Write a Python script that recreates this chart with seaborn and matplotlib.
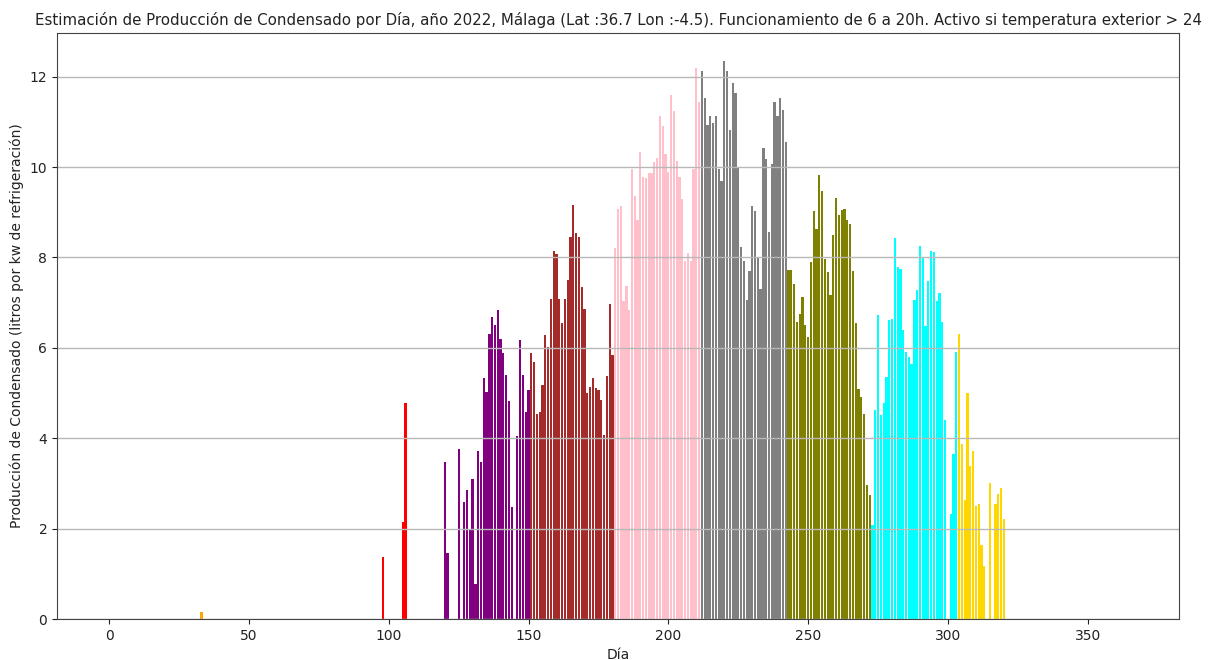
import numpy as np
import pandas as pd
import matplotlib
matplotlib.use("Agg")
import matplotlib.pyplot as plt
import seaborn as sns

# ---- data (litros por kW de refrigeración, por día del año 2022; índice 0 = 1 de enero)
feb_days = [33]
feb_vals = [0.15]
apr_days = [98, 105, 106]
apr_vals = [1.37, 2.14, 4.77]
may_vals = [3.48, 1.47, 0, 0, 0, 3.77, 0, 2.59, 2.85, 1.98, 3.09, 0.77, 3.71, 3.48, 5.33,
            5.02, 6.31, 6.68, 6.50, 6.84, 6.20, 5.89, 5.41, 4.82, 2.48, 0, 4.05, 6.17, 5.4,
            4.58, 5.06]
jun_vals = [5.89, 5.69, 4.53, 4.58, 5.17, 6.29, 6.02, 7.09, 8.15, 8.07, 7.09, 6.55, 7.09,
            7.51, 8.46, 9.17, 8.54, 8.46, 7.34, 6.87, 5.01, 5.13, 5.33, 5.11, 5.06, 4.85,
            4.08, 5.37, 6.98, 5.85]
jul_vals = [8.21, 9.07, 9.15, 7.03, 7.38, 6.83, 9.96, 9.35, 8.82, 10.34, 9.79, 9.75, 9.86,
            9.88, 10.11, 10.2, 11.12, 10.90, 10.28, 9.9, 11.60, 11.25, 10.14, 9.79, 9.30,
            7.93, 8.10, 7.92, 9.96, 12.19, 11.43]
aug_vals = [12.13, 11.53, 10.94, 11.12, 10.97, 11.14, 9.96, 9.69, 12.35, 12.12, 10.82,
            11.86, 11.63, 9.98, 8.23, 7.93, 7.07, 7.69, 9.15, 9.02, 8.01, 7.31, 10.42, 10.19,
            8.56, 10.07, 11.45, 11.12, 11.53, 11.27, 10.55]
sep_vals = [7.73, 7.73, 7.42, 6.57, 6.74, 7.12, 6.50, 6.24, 7.90, 9.02, 8.64, 9.83, 9.47,
            7.97, 7.68, 7.16, 8.49, 9.32, 8.95, 9.05, 9.08, 8.82, 8.73, 7.71, 6.55, 5.09,
            4.91, 4.53, 2.96, 2.74]
oct_vals = [2.08, 4.62, 6.73, 4.51, 4.78, 5.36, 6.62, 6.64, 8.44, 7.79, 7.75, 6.40, 5.91,
            5.80, 5.64, 7.05, 7.27, 8.26, 8.02, 6.48, 7.49, 8.15, 8.12, 7.03, 7.22, 6.57,
            4.40, 0, 2.32, 3.65, 5.90]
nov_vals = [6.31, 3.87, 2.63, 5.00, 3.39, 3.71, 2.50, 2.54, 1.64, 1.18, 0, 3.00, 0, 2.54,
            2.76, 2.91, 2.21]

month_colors = ["blue", "orange", "green", "red", "purple", "brown", "pink", "gray",
                "olive", "cyan", "gold", "navy"]

# ---- build daily table
dates = pd.date_range("2022-01-01", "2022-12-31", freq="D")
n = len(dates)
vals = np.zeros(n)
for d, v in zip(feb_days, feb_vals):
    vals[d] = v
for d, v in zip(apr_days, apr_vals):
    vals[d] = v
month_start = {m: int(np.argmax(dates.month == m)) for m in range(1, 13)}
for m, arr in [(5, may_vals), (6, jun_vals), (7, jul_vals), (8, aug_vals),
               (9, sep_vals), (10, oct_vals), (11, nov_vals)]:
    s = month_start[m]
    vals[s:s + len(arr)] = arr

df = pd.DataFrame({"dia": np.arange(n), "litros": vals, "mes": dates.month})
palette = {m: month_colors[m - 1] for m in range(1, 13)}

# ---- plot
fig = plt.figure(figsize=(12.1, 6.6), dpi=100)
ax = fig.add_axes([0.0471, 0.0621, 0.9273, 0.8879])
sns.barplot(data=df, x="dia", y="litros", hue="mes", palette=palette, native_scale=True,
            dodge=False, width=0.8, saturation=1, linewidth=0, legend=False, ax=ax,
            errorbar=None)
ax.set_axisbelow("line")
ax.grid(axis="y", color="#b8b8b8", linewidth=1.0)
ax.grid(axis="x", visible=False)
ax.set_xlim(-18.64, 382.64)
ax.set_xticks(np.arange(0, 351, 50))
ax.set_yticks(np.arange(0, 13, 2))
ax.set_xlabel("Día", fontsize=10, color="#222222")
ax.set_ylabel("Producción de Condensado (litros por kw de refrigeración)", fontsize=10,
              color="#222222")
ax.set_title("Estimación de Producción de Condensado por Día, año 2022, Málaga "
             "(Lat :36.7 Lon :-4.5). Funcionamiento de 6 a 20h. Activo si temperatura "
             "exterior > 24", fontsize=10.8, color="#222222")
ax.tick_params(labelsize=10, colors="#222222")
for sp in ax.spines.values():
    sp.set_color("#444444")
    sp.set_visible(True)
fig.savefig("out.png", dpi=100)
